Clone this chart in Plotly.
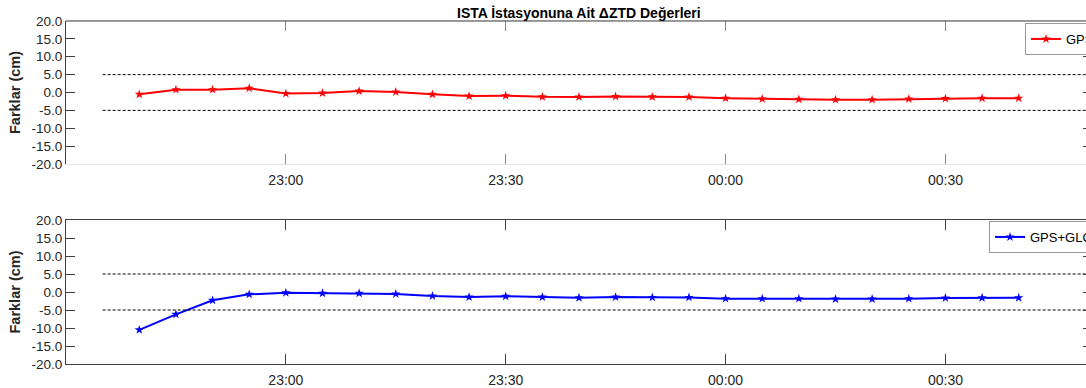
import plotly.graph_objects as go
from plotly.subplots import make_subplots

# ---- data ----
times = [
    "2015-01-01 22:40", "2015-01-01 22:45", "2015-01-01 22:50", "2015-01-01 22:55",
    "2015-01-01 23:00", "2015-01-01 23:05", "2015-01-01 23:10", "2015-01-01 23:15",
    "2015-01-01 23:20", "2015-01-01 23:25", "2015-01-01 23:30", "2015-01-01 23:35",
    "2015-01-01 23:40", "2015-01-01 23:45", "2015-01-01 23:50", "2015-01-01 23:55",
    "2015-01-02 00:00", "2015-01-02 00:05", "2015-01-02 00:10", "2015-01-02 00:15",
    "2015-01-02 00:20", "2015-01-02 00:25", "2015-01-02 00:30", "2015-01-02 00:35",
    "2015-01-02 00:40",
]
gps = [-0.5, 0.8, 0.8, 1.2, -0.3, -0.15, 0.4, 0.15, -0.5, -1.0, -0.9, -1.2, -1.25,
       -1.1, -1.2, -1.25, -1.6, -1.8, -1.9, -2.0, -2.0, -1.8, -1.7, -1.6, -1.6]
gps_glo = [-10.5, -6.2, -2.3, -0.65, -0.2, -0.35, -0.35, -0.55, -1.1, -1.4, -1.2, -1.4,
           -1.6, -1.4, -1.5, -1.5, -1.85, -1.85, -1.85, -1.95, -1.95, -1.85, -1.65, -1.6, -1.6]
thresh_x = ["2015-01-01 22:35", "2015-01-02 00:50"]
thresh_upper = [5, 5]
thresh_lower = [-5, -5]
x_range = ["2015-01-01 22:30", "2015-01-02 00:50"]
x_ticks = ["2015-01-01 23:00", "2015-01-01 23:30", "2015-01-02 00:00", "2015-01-02 00:30"]
x_ticklabels = ["23:00", "23:30", "00:00", "00:30"]
y_ticks = [-20, -15, -10, -5, 0, 5, 10, 15, 20]
y_ticklabels = ["-20.0", "-15.0", "-10.0", "-5.0", "0.0", "5.0", "10.0", "15.0", "20.0"]
title_text = "ISTA İstasyonuna Ait ΔZTD Değerleri"

FONT = "Liberation Sans, Arial, sans-serif"
DARK = "#404040"
TXT = "#262626"

# the original figure is wider than the visible window; its right edge is cropped
W, H = 1092, 388
L, R, T, B = 66, 0, 21, 24
pw = W - L - R
ph = H - T - B
top_dom = [(364 - 164) / ph, 1.0]
bot_dom = [0.0, (364 - 220) / ph]

fig = make_subplots(rows=2, cols=1)

fig.add_trace(go.Scatter(x=times, y=gps, mode="lines+markers", name="GPS",
                         line=dict(color="#ff0000", width=2),
                         marker=dict(symbol="star", size=7, color="#ff0000"),
                         legend="legend"), row=1, col=1)
fig.add_trace(go.Scatter(x=times, y=gps_glo, mode="lines+markers", name="GPS+GLONASS",
                         line=dict(color="#0000ff", width=2),
                         marker=dict(symbol="star", size=7, color="#0000ff"),
                         legend="legend2"), row=2, col=1)

for r in (1, 2):
    for ty in (thresh_upper, thresh_lower):
        fig.add_trace(go.Scatter(x=thresh_x, y=ty, mode="lines", showlegend=False,
                                 line=dict(color="black", width=1, dash="3px,2px"),
                                 hoverinfo="skip"), row=r, col=1)

xcommon = dict(range=x_range, type="date", tickmode="array", tickvals=x_ticks,
               ticktext=x_ticklabels, ticks="inside", ticklen=10, showgrid=False,
               zeroline=False, showline=True, mirror="ticks", ticklabelstandoff=3,
               tickfont=dict(family=FONT, size=14, color=TXT))
ycommon = dict(range=[-20, 20], tickmode="array", tickvals=y_ticks, ticktext=y_ticklabels,
               ticks="inside", ticklen=9, showgrid=False, zeroline=False, showline=True,
               mirror="ticks", linecolor=DARK, tickcolor=DARK,
               tickfont=dict(family=FONT, size=13.5, color=TXT),
               title=dict(text="<b>Farklar (cm)</b>", font=dict(family=FONT, size=14.5, color=TXT),
                          standoff=7))

fig.update_xaxes(**xcommon, linecolor="#e6e6e6", tickcolor="#888888", domain=[0, 1], row=1, col=1)
fig.update_xaxes(**xcommon, linecolor=DARK, tickcolor=DARK, domain=[0, 1], row=2, col=1)
fig.update_yaxes(**ycommon, domain=top_dom, row=1, col=1)
fig.update_yaxes(**ycommon, domain=bot_dom, row=2, col=1)

# dark top border of the upper panel
fig.add_shape(type="line", xref="x domain", yref="y domain", x0=0, x1=1, y0=1, y1=1,
              line=dict(color=DARK, width=1))

fig.add_annotation(text="<b>" + title_text + "</b>", xref="paper", yref="paper",
                   x=(579 - L) / pw, y=1 + (T - 12.5) / ph, xanchor="center",
                   yanchor="middle", showarrow=False,
                   font=dict(family=FONT, size=14, color="black"))

fig.update_layout(
    width=W, height=H,
    margin=dict(l=L, r=R, t=T, b=B, autoexpand=False),
    paper_bgcolor="white", plot_bgcolor="white",
    font=dict(family=FONT, size=13, color=TXT),
    legend=dict(x=(1025 - L) / pw, y=1 - (23 - T) / ph, xanchor="left", yanchor="top",
                bgcolor="white", bordercolor="#999999", borderwidth=1,
                font=dict(family=FONT, size=13, color="black"), itemwidth=30,
                tracegroupgap=0),
    legend2=dict(x=(989 - L) / pw, y=(364 - 221) / ph, xanchor="left", yanchor="top",
                 bgcolor="white", bordercolor="#999999", borderwidth=1,
                 font=dict(family=FONT, size=13, color="black"), itemwidth=30,
                 tracegroupgap=0),
    showlegend=True,
)

fig.write_html("out.html", config={"displayModeBar": False},
               post_script="document.body.style.margin='0';document.body.style.overflow='hidden';")
